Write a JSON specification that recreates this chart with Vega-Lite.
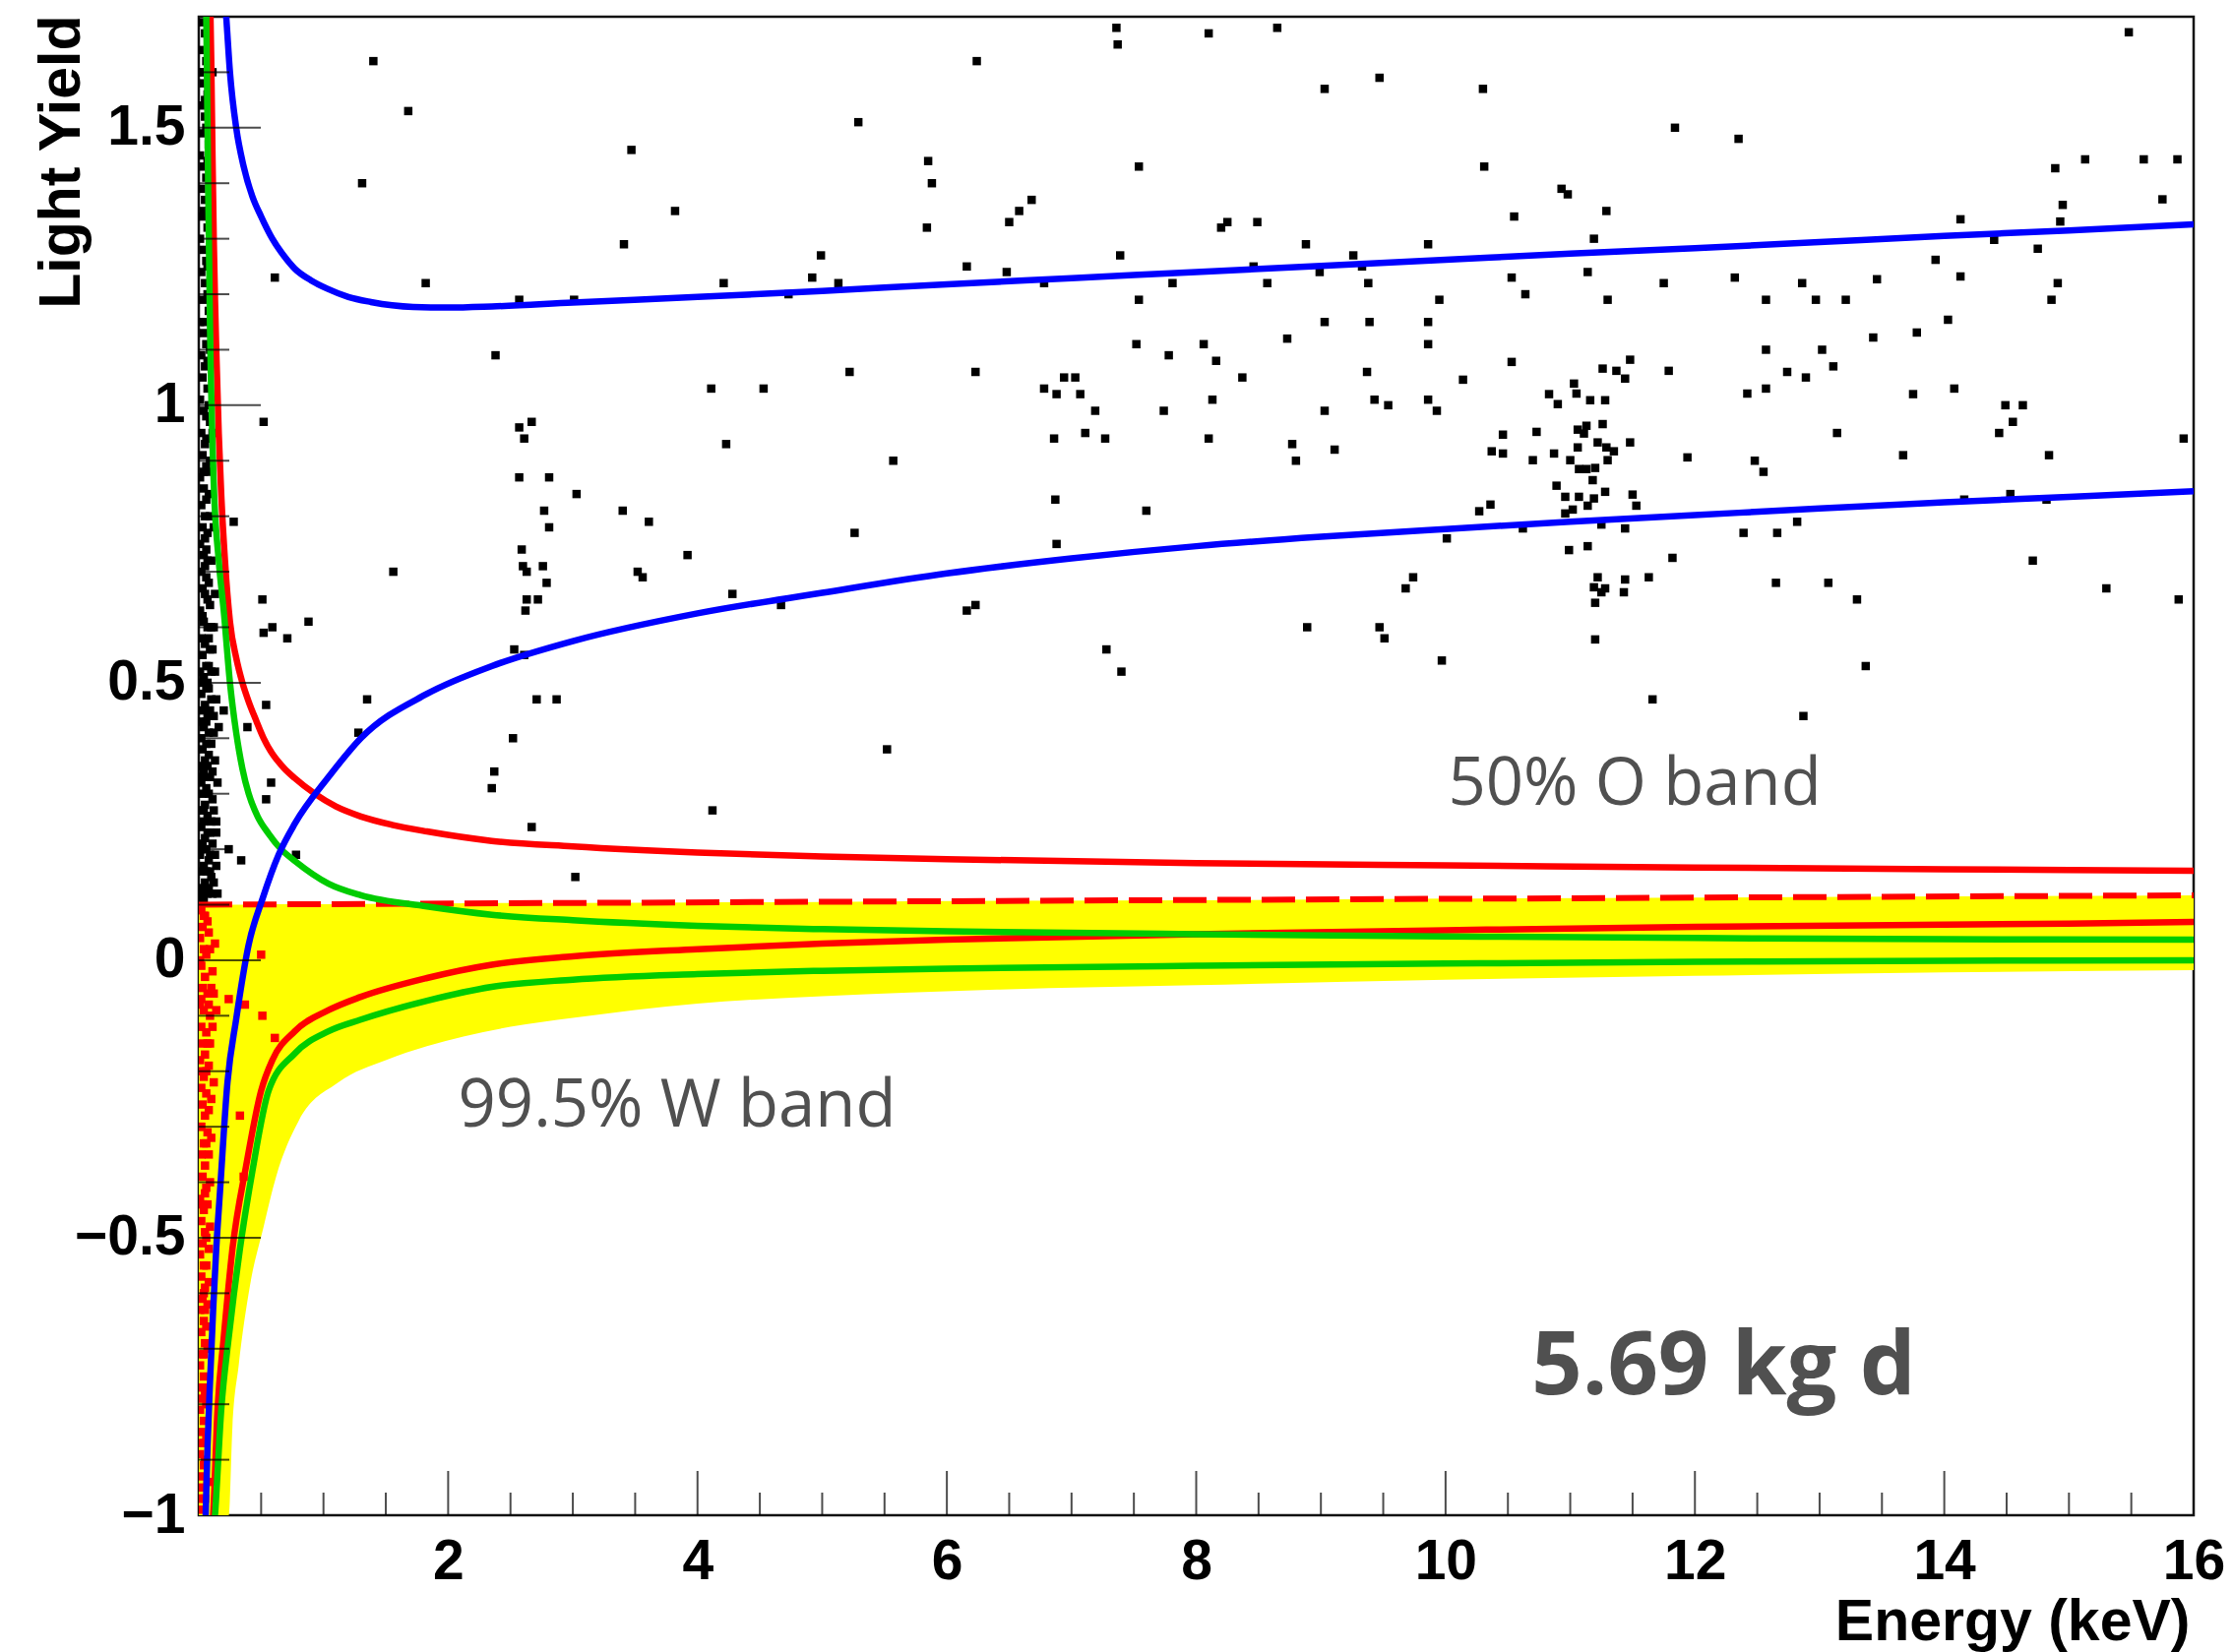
{
  "$schema": "https://vega.github.io/schema/vega-lite/v6.json",
  "width": 2027,
  "height": 1523,
  "autosize": {"type": "none"},
  "padding": {"left": 202, "top": 17, "right": 40, "bottom": 139},
  "background": "white",
  "config": {
    "view": {"stroke": "#111111", "strokeWidth": 2.5},
    "axis": {"grid": false, "domain": false, "ticks": false, "labelOverlap": false, "labelFlush": false, "labelBound": false,
      "labelFont": "Liberation Sans", "labelFontWeight": "bold", "labelFontSize": 57, "labelColor": "#000000",
      "titleFont": "Liberation Sans", "titleFontWeight": "bold", "titleFontSize": 59, "titleColor": "#000000"}
  },
  "datasets": {
    "band": [
      {"E": 0, "top": 0.100, "bottom": -1.0},
      {"E": 0.24, "top": 0.100, "bottom": -1.0},
      {"E": 0.27, "top": 0.100, "bottom": -0.84},
      {"E": 0.32, "top": 0.100, "bottom": -0.73},
      {"E": 0.41, "top": 0.100, "bottom": -0.587},
      {"E": 0.52, "top": 0.101, "bottom": -0.48},
      {"E": 0.62, "top": 0.101, "bottom": -0.39},
      {"E": 0.80, "top": 0.101, "bottom": -0.29},
      {"E": 1.12, "top": 0.101, "bottom": -0.22},
      {"E": 1.5, "top": 0.102, "bottom": -0.18},
      {"E": 1.83, "top": 0.102, "bottom": -0.155},
      {"E": 2.5, "top": 0.103, "bottom": -0.12},
      {"E": 3, "top": 0.103, "bottom": -0.104},
      {"E": 4, "top": 0.104, "bottom": -0.078},
      {"E": 5, "top": 0.105, "bottom": -0.065},
      {"E": 6.4, "top": 0.107, "bottom": -0.053},
      {"E": 8, "top": 0.108, "bottom": -0.045},
      {"E": 10, "top": 0.111, "bottom": -0.035},
      {"E": 12, "top": 0.113, "bottom": -0.028},
      {"E": 14, "top": 0.115, "bottom": -0.022},
      {"E": 16, "top": 0.117, "bottom": -0.018}
    ],
    "dash": [{"E": 0, "LY": 0.10}, {"E": 16, "LY": 0.117}],
    "curves": [
      {"s": "redUp", "E": 0.09, "LY": 1.75}, {"s": "redUp", "E": 0.10, "LY": 1.62}, {"s": "redUp", "E": 0.11, "LY": 1.45}, {"s": "redUp", "E": 0.12, "LY": 1.3}, {"s": "redUp", "E": 0.13, "LY": 1.19}, {"s": "redUp", "E": 0.14, "LY": 1.1}, {"s": "redUp", "E": 0.16, "LY": 0.95}, {"s": "redUp", "E": 0.18, "LY": 0.84}, {"s": "redUp", "E": 0.21, "LY": 0.72}, {"s": "redUp", "E": 0.25, "LY": 0.61}, {"s": "redUp", "E": 0.30, "LY": 0.545}, {"s": "redUp", "E": 0.35, "LY": 0.50}, {"s": "redUp", "E": 0.40, "LY": 0.466}, {"s": "redUp", "E": 0.46, "LY": 0.432}, {"s": "redUp", "E": 0.52, "LY": 0.40}, {"s": "redUp", "E": 0.59, "LY": 0.372}, {"s": "redUp", "E": 0.68, "LY": 0.347}, {"s": "redUp", "E": 0.77, "LY": 0.328}, {"s": "redUp", "E": 0.93, "LY": 0.30}, {"s": "redUp", "E": 1.1, "LY": 0.277}, {"s": "redUp", "E": 1.30, "LY": 0.259}, {"s": "redUp", "E": 1.55, "LY": 0.244}, {"s": "redUp", "E": 1.83, "LY": 0.232}, {"s": "redUp", "E": 2.35, "LY": 0.215}, {"s": "redUp", "E": 3, "LY": 0.205}, {"s": "redUp", "E": 4, "LY": 0.194}, {"s": "redUp", "E": 5, "LY": 0.187}, {"s": "redUp", "E": 6, "LY": 0.182}, {"s": "redUp", "E": 8, "LY": 0.175}, {"s": "redUp", "E": 10, "LY": 0.171}, {"s": "redUp", "E": 12, "LY": 0.167}, {"s": "redUp", "E": 14, "LY": 0.164}, {"s": "redUp", "E": 16, "LY": 0.161},
      {"s": "redLo", "E": 0.105, "LY": -1.03}, {"s": "redLo", "E": 0.115, "LY": -1.0}, {"s": "redLo", "E": 0.15, "LY": -0.81}, {"s": "redLo", "E": 0.20, "LY": -0.68}, {"s": "redLo", "E": 0.27, "LY": -0.52}, {"s": "redLo", "E": 0.38, "LY": -0.37}, {"s": "redLo", "E": 0.50, "LY": -0.235}, {"s": "redLo", "E": 0.59, "LY": -0.18}, {"s": "redLo", "E": 0.77, "LY": -0.128}, {"s": "redLo", "E": 1.04, "LY": -0.09}, {"s": "redLo", "E": 1.30, "LY": -0.066}, {"s": "redLo", "E": 1.83, "LY": -0.032}, {"s": "redLo", "E": 2.35, "LY": -0.008}, {"s": "redLo", "E": 3, "LY": 0.007}, {"s": "redLo", "E": 4, "LY": 0.02}, {"s": "redLo", "E": 5, "LY": 0.03}, {"s": "redLo", "E": 6, "LY": 0.037}, {"s": "redLo", "E": 8, "LY": 0.047}, {"s": "redLo", "E": 10, "LY": 0.054}, {"s": "redLo", "E": 12, "LY": 0.06}, {"s": "redLo", "E": 14, "LY": 0.064}, {"s": "redLo", "E": 15, "LY": 0.066}, {"s": "redLo", "E": 16, "LY": 0.069},
      {"s": "greenUp", "E": 0.055, "LY": 1.75}, {"s": "greenUp", "E": 0.06, "LY": 1.70}, {"s": "greenUp", "E": 0.075, "LY": 1.4}, {"s": "greenUp", "E": 0.09, "LY": 1.14}, {"s": "greenUp", "E": 0.12, "LY": 0.86}, {"s": "greenUp", "E": 0.16, "LY": 0.72}, {"s": "greenUp", "E": 0.20, "LY": 0.63}, {"s": "greenUp", "E": 0.25, "LY": 0.50}, {"s": "greenUp", "E": 0.30, "LY": 0.41}, {"s": "greenUp", "E": 0.35, "LY": 0.345}, {"s": "greenUp", "E": 0.40, "LY": 0.30}, {"s": "greenUp", "E": 0.47, "LY": 0.26}, {"s": "greenUp", "E": 0.56, "LY": 0.228}, {"s": "greenUp", "E": 0.66, "LY": 0.20}, {"s": "greenUp", "E": 0.77, "LY": 0.179}, {"s": "greenUp", "E": 1.04, "LY": 0.138}, {"s": "greenUp", "E": 1.30, "LY": 0.117}, {"s": "greenUp", "E": 1.83, "LY": 0.097}, {"s": "greenUp", "E": 2.35, "LY": 0.082}, {"s": "greenUp", "E": 3, "LY": 0.072}, {"s": "greenUp", "E": 4, "LY": 0.062}, {"s": "greenUp", "E": 5, "LY": 0.056}, {"s": "greenUp", "E": 6, "LY": 0.052}, {"s": "greenUp", "E": 8, "LY": 0.047}, {"s": "greenUp", "E": 10, "LY": 0.043}, {"s": "greenUp", "E": 12, "LY": 0.040}, {"s": "greenUp", "E": 14, "LY": 0.038}, {"s": "greenUp", "E": 16, "LY": 0.037},
      {"s": "greenLo", "E": 0.12, "LY": -1.03}, {"s": "greenLo", "E": 0.13, "LY": -1.0}, {"s": "greenLo", "E": 0.18, "LY": -0.81}, {"s": "greenLo", "E": 0.24, "LY": -0.68}, {"s": "greenLo", "E": 0.33, "LY": -0.52}, {"s": "greenLo", "E": 0.43, "LY": -0.38}, {"s": "greenLo", "E": 0.56, "LY": -0.235}, {"s": "greenLo", "E": 0.77, "LY": -0.168}, {"s": "greenLo", "E": 1.04, "LY": -0.128}, {"s": "greenLo", "E": 1.30, "LY": -0.107}, {"s": "greenLo", "E": 1.83, "LY": -0.073}, {"s": "greenLo", "E": 2.35, "LY": -0.048}, {"s": "greenLo", "E": 3, "LY": -0.035}, {"s": "greenLo", "E": 4, "LY": -0.025}, {"s": "greenLo", "E": 5, "LY": -0.019}, {"s": "greenLo", "E": 6, "LY": -0.015}, {"s": "greenLo", "E": 8, "LY": -0.01}, {"s": "greenLo", "E": 10, "LY": -0.006}, {"s": "greenLo", "E": 12, "LY": -0.003}, {"s": "greenLo", "E": 14, "LY": -0.001}, {"s": "greenLo", "E": 16, "LY": 0.0},
      {"s": "blueUp", "E": 0.20, "LY": 1.76}, {"s": "blueUp", "E": 0.22, "LY": 1.70}, {"s": "blueUp", "E": 0.25, "LY": 1.60}, {"s": "blueUp", "E": 0.30, "LY": 1.50}, {"s": "blueUp", "E": 0.36, "LY": 1.43}, {"s": "blueUp", "E": 0.43, "LY": 1.376}, {"s": "blueUp", "E": 0.50, "LY": 1.34}, {"s": "blueUp", "E": 0.59, "LY": 1.30}, {"s": "blueUp", "E": 0.68, "LY": 1.27}, {"s": "blueUp", "E": 0.77, "LY": 1.246}, {"s": "blueUp", "E": 0.9, "LY": 1.225}, {"s": "blueUp", "E": 1.03, "LY": 1.21}, {"s": "blueUp", "E": 1.2, "LY": 1.195}, {"s": "blueUp", "E": 1.38, "LY": 1.186}, {"s": "blueUp", "E": 1.55, "LY": 1.18}, {"s": "blueUp", "E": 1.72, "LY": 1.177}, {"s": "blueUp", "E": 2.0, "LY": 1.176}, {"s": "blueUp", "E": 2.35, "LY": 1.178}, {"s": "blueUp", "E": 3, "LY": 1.185}, {"s": "blueUp", "E": 4, "LY": 1.195}, {"s": "blueUp", "E": 5, "LY": 1.206}, {"s": "blueUp", "E": 6, "LY": 1.218}, {"s": "blueUp", "E": 7, "LY": 1.229}, {"s": "blueUp", "E": 8, "LY": 1.24}, {"s": "blueUp", "E": 9, "LY": 1.251}, {"s": "blueUp", "E": 10, "LY": 1.262}, {"s": "blueUp", "E": 11, "LY": 1.273}, {"s": "blueUp", "E": 12, "LY": 1.283}, {"s": "blueUp", "E": 13, "LY": 1.294}, {"s": "blueUp", "E": 14, "LY": 1.305}, {"s": "blueUp", "E": 15, "LY": 1.315}, {"s": "blueUp", "E": 16, "LY": 1.326},
      {"s": "blueLo", "E": 0.05, "LY": -1.04}, {"s": "blueLo", "E": 0.055, "LY": -1.0}, {"s": "blueLo", "E": 0.07, "LY": -0.876}, {"s": "blueLo", "E": 0.09, "LY": -0.76}, {"s": "blueLo", "E": 0.115, "LY": -0.63}, {"s": "blueLo", "E": 0.14, "LY": -0.52}, {"s": "blueLo", "E": 0.17, "LY": -0.417}, {"s": "blueLo", "E": 0.23, "LY": -0.22}, {"s": "blueLo", "E": 0.30, "LY": -0.106}, {"s": "blueLo", "E": 0.40, "LY": 0.028}, {"s": "blueLo", "E": 0.51, "LY": 0.11}, {"s": "blueLo", "E": 0.64, "LY": 0.19}, {"s": "blueLo", "E": 0.77, "LY": 0.246}, {"s": "blueLo", "E": 1.04, "LY": 0.33}, {"s": "blueLo", "E": 1.30, "LY": 0.40}, {"s": "blueLo", "E": 1.83, "LY": 0.48}, {"s": "blueLo", "E": 2.35, "LY": 0.53}, {"s": "blueLo", "E": 3, "LY": 0.575}, {"s": "blueLo", "E": 4, "LY": 0.625}, {"s": "blueLo", "E": 5, "LY": 0.662}, {"s": "blueLo", "E": 6, "LY": 0.697}, {"s": "blueLo", "E": 7, "LY": 0.724}, {"s": "blueLo", "E": 8, "LY": 0.746}, {"s": "blueLo", "E": 9, "LY": 0.763}, {"s": "blueLo", "E": 10, "LY": 0.777}, {"s": "blueLo", "E": 11, "LY": 0.79}, {"s": "blueLo", "E": 12, "LY": 0.802}, {"s": "blueLo", "E": 13, "LY": 0.814}, {"s": "blueLo", "E": 14, "LY": 0.825}, {"s": "blueLo", "E": 15, "LY": 0.835}, {"s": "blueLo", "E": 16, "LY": 0.845}
    ],
    "red": [
      {"E":0.02,"LY":0.09},{"E":0.05,"LY":0.08},{"E":0.03,"LY":0.06},{"E":0.08,"LY":0.05},{"E":0.01,"LY":0.04},{"E":0.04,"LY":0.02},{"E":0.06,"LY":0.01},{"E":0.02,"LY":-0.01},{"E":0.11,"LY":-0.02},{"E":0.05,"LY":-0.03},{"E":0.03,"LY":-0.05},{"E":0.07,"LY":-0.06},{"E":0.01,"LY":-0.08},{"E":0.04,"LY":-0.09},{"E":0.09,"LY":-0.10},{"E":0.02,"LY":-0.12},{"E":0.06,"LY":-0.13},{"E":0.03,"LY":-0.15},{"E":0.05,"LY":-0.17},{"E":0.01,"LY":-0.18},{"E":0.08,"LY":-0.19},{"E":0.04,"LY":-0.21},{"E":0.02,"LY":-0.23},{"E":0.06,"LY":-0.24},{"E":0.03,"LY":-0.26},{"E":0.05,"LY":-0.28},{"E":0.01,"LY":-0.30},{"E":0.07,"LY":-0.31},{"E":0.04,"LY":-0.33},{"E":0.02,"LY":-0.35},{"E":0.05,"LY":-0.37},{"E":0.03,"LY":-0.39},{"E":0.06,"LY":-0.41},{"E":0.01,"LY":-0.43},{"E":0.04,"LY":-0.45},{"E":0.02,"LY":-0.47},{"E":0.05,"LY":-0.49},{"E":0.03,"LY":-0.51},{"E":0.01,"LY":-0.53},{"E":0.04,"LY":-0.55},{"E":0.02,"LY":-0.57},{"E":0.05,"LY":-0.59},{"E":0.03,"LY":-0.61},{"E":0.01,"LY":-0.63},{"E":0.04,"LY":-0.65},{"E":0.02,"LY":-0.67},{"E":0.05,"LY":-0.69},{"E":0.03,"LY":-0.71},{"E":0.01,"LY":-0.73},{"E":0.04,"LY":-0.75},{"E":0.02,"LY":-0.77},{"E":0.03,"LY":-0.79},{"E":0.01,"LY":-0.81},{"E":0.04,"LY":-0.83},{"E":0.02,"LY":-0.85},{"E":0.03,"LY":-0.87},{"E":0.01,"LY":-0.89},{"E":0.04,"LY":-0.91},{"E":0.02,"LY":-0.93},{"E":0.03,"LY":-0.95},{"E":0.01,"LY":-0.97},{"E":0.02,"LY":-0.99},
      {"E":0.13,"LY":0.03},{"E":0.10,"LY":-0.05},{"E":0.07,"LY":0.07},{"E":0.09,"LY":-0.15},{"E":0.12,"LY":-0.22},{"E":0.07,"LY":-0.44},{"E":0.08,"LY":-0.27},{"E":0.06,"LY":-0.55},{"E":0.07,"LY":-0.62},{"E":0.06,"LY":-0.80},{"E":0.05,"LY":-0.90},
      {"E":0.08,"LY":-0.35},{"E":0.09,"LY":-0.48},{"E":0.07,"LY":-0.70},{"E":0.08,"LY":-0.58},{"E":0.06,"LY":-0.66},{"E":0.07,"LY":-0.77},{"E":0.06,"LY":-0.86},{"E":0.07,"LY":-0.94},{"E":0.05,"LY":-0.97},{"E":0.06,"LY":-0.33},{"E":0.09,"LY":-0.40},{"E":0.10,"LY":-0.25},{"E":0.11,"LY":-0.12},{"E":0.12,"LY":-0.06},{"E":0.08,"LY":-0.08},{"E":0.09,"LY":0.02},{"E":0.06,"LY":-0.20},{"E":0.07,"LY":-0.15},{"E":0.05,"LY":-0.42},{"E":0.06,"LY":-0.50},{"E":0.05,"LY":-0.63},{"E":0.04,"LY":-0.71},{"E":0.05,"LY":-0.78},{"E":0.04,"LY":-0.87},{"E":0.03,"LY":-0.97},{"E":0.04,"LY":-0.60},{"E":0.03,"LY":-0.44},{"E":0.02,"LY":-0.30},{"E":0.03,"LY":-0.20},{"E":0.02,"LY":-0.07},{"E":0.01,"LY":0.0},{"E":0.04,"LY":0.08},{"E":0.14,"LY":-0.09},{"E":0.10,"LY":-0.32},{"E":0.08,"LY":-0.52},
      {"E":0.50,"LY":0.01},{"E":0.24,"LY":-0.07},{"E":0.37,"LY":-0.08},{"E":0.51,"LY":-0.10},{"E":0.61,"LY":-0.14},{"E":0.33,"LY":-0.28},{"E":0.36,"LY":-0.39}
    ],
    "black": [
      {"E":0.02,"LY":1.69},{"E":0.05,"LY":1.67},{"E":0.03,"LY":1.64},{"E":0.06,"LY":1.62},{"E":0.01,"LY":1.60},{"E":0.04,"LY":1.58},{"E":0.07,"LY":1.56},{"E":0.02,"LY":1.54},{"E":0.05,"LY":1.52},{"E":0.03,"LY":1.49},{"E":0.08,"LY":1.47},{"E":0.01,"LY":1.45},{"E":0.04,"LY":1.43},{"E":0.06,"LY":1.41},{"E":0.02,"LY":1.39},{"E":0.05,"LY":1.37},{"E":0.03,"LY":1.34},{"E":0.07,"LY":1.32},{"E":0.01,"LY":1.30},{"E":0.04,"LY":1.28},{"E":0.06,"LY":1.26},{"E":0.02,"LY":1.24},{"E":0.05,"LY":1.22},{"E":0.03,"LY":1.19},{"E":0.08,"LY":1.17},{"E":0.01,"LY":1.15},{"E":0.04,"LY":1.13},{"E":0.06,"LY":1.11},{"E":0.02,"LY":1.09},{"E":0.05,"LY":1.07},{"E":0.03,"LY":1.05},{"E":0.07,"LY":1.03},{"E":0.01,"LY":1.01},{"E":0.04,"LY":0.99},{"E":0.09,"LY":0.97},{"E":0.02,"LY":0.95},{"E":0.05,"LY":0.93},{"E":0.03,"LY":0.91},{"E":0.06,"LY":0.89},{"E":0.01,"LY":0.87},{"E":0.04,"LY":0.85},{"E":0.08,"LY":0.84},{"E":0.02,"LY":0.82},{"E":0.05,"LY":0.80},{"E":0.03,"LY":0.78},{"E":0.07,"LY":0.77},{"E":0.01,"LY":0.75},{"E":0.04,"LY":0.73},{"E":0.10,"LY":0.72},{"E":0.02,"LY":0.70},{"E":0.06,"LY":0.69},{"E":0.03,"LY":0.67},{"E":0.05,"LY":0.66},{"E":0.09,"LY":0.64},{"E":0.01,"LY":0.63},{"E":0.04,"LY":0.61},{"E":0.07,"LY":0.60},{"E":0.02,"LY":0.58},{"E":0.05,"LY":0.57},{"E":0.11,"LY":0.56},{"E":0.03,"LY":0.55},{"E":0.08,"LY":0.53},{"E":0.01,"LY":0.52},{"E":0.04,"LY":0.51},{"E":0.06,"LY":0.49},{"E":0.02,"LY":0.48},{"E":0.10,"LY":0.47},{"E":0.05,"LY":0.46},{"E":0.03,"LY":0.45},{"E":0.07,"LY":0.44},{"E":0.01,"LY":0.43},{"E":0.04,"LY":0.42},{"E":0.12,"LY":0.41},{"E":0.02,"LY":0.40},{"E":0.06,"LY":0.39},{"E":0.03,"LY":0.38},{"E":0.08,"LY":0.37},{"E":0.05,"LY":0.36},{"E":0.01,"LY":0.35},{"E":0.04,"LY":0.34},{"E":0.09,"LY":0.33},{"E":0.02,"LY":0.32},{"E":0.06,"LY":0.31},{"E":0.03,"LY":0.30},{"E":0.11,"LY":0.29},{"E":0.05,"LY":0.28},{"E":0.01,"LY":0.27},{"E":0.07,"LY":0.26},{"E":0.04,"LY":0.25},{"E":0.02,"LY":0.24},{"E":0.09,"LY":0.23},{"E":0.05,"LY":0.22},{"E":0.03,"LY":0.21},{"E":0.06,"LY":0.20},{"E":0.01,"LY":0.19},{"E":0.08,"LY":0.18},{"E":0.04,"LY":0.17},{"E":0.02,"LY":0.16},{"E":0.10,"LY":0.15},{"E":0.05,"LY":0.14},{"E":0.03,"LY":0.13},{"E":0.07,"LY":0.12},{"E":0.01,"LY":0.115},{"E":0.04,"LY":0.11},
      {"E":0.06,"LY":1.50},{"E":0.08,"LY":1.35},{"E":0.07,"LY":1.20},{"E":0.08,"LY":1.00},{"E":0.06,"LY":0.94},{"E":0.07,"LY":0.88},{"E":0.09,"LY":0.80},{"E":0.06,"LY":0.74},{"E":0.08,"LY":0.68},{"E":0.03,"LY":0.62},{"E":0.09,"LY":0.56},{"E":0.06,"LY":0.53},{"E":0.03,"LY":0.50},{"E":0.08,"LY":0.49},{"E":0.06,"LY":0.43},{"E":0.10,"LY":0.39},{"E":0.07,"LY":0.35},{"E":0.03,"LY":0.33},{"E":0.08,"LY":0.30},{"E":0.04,"LY":0.27},{"E":0.07,"LY":0.23},{"E":0.02,"LY":0.20},{"E":0.09,"LY":0.19},{"E":0.06,"LY":0.16},{"E":0.02,"LY":0.12},{"E":0.08,"LY":0.13},
      {"E":0.11,"LY":1.60},{"E":0.10,"LY":1.25},{"E":0.11,"LY":0.95},{"E":0.12,"LY":0.78},{"E":0.13,"LY":0.66},{"E":0.12,"LY":0.60},{"E":0.13,"LY":0.52},{"E":0.14,"LY":0.47},{"E":0.12,"LY":0.44},{"E":0.13,"LY":0.36},{"E":0.15,"LY":0.32},{"E":0.12,"LY":0.27},{"E":0.14,"LY":0.25},{"E":0.11,"LY":0.21},{"E":0.13,"LY":0.19},{"E":0.12,"LY":0.14},{"E":0.15,"LY":0.12},{"E":0.09,"LY":1.10},{"E":0.09,"LY":0.90},{"E":0.10,"LY":0.60},{"E":0.10,"LY":0.52},{"E":0.11,"LY":0.34},{"E":0.10,"LY":0.25},{"E":0.09,"LY":0.16},{"E":0.11,"LY":0.12},{"E":0.08,"LY":0.41},{"E":0.09,"LY":0.45},{"E":0.07,"LY":0.50},{"E":0.08,"LY":0.58},{"E":0.07,"LY":0.65},{"E":0.05,"LY":0.71},{"E":0.07,"LY":0.72},{"E":0.05,"LY":0.76},{"E":0.06,"LY":0.83},{"E":0.04,"LY":0.88},{"E":0.06,"LY":0.98},{"E":0.07,"LY":1.08},{"E":0.05,"LY":1.15},{"E":0.07,"LY":1.25},{"E":0.04,"LY":1.35},{"E":0.07,"LY":1.44},{"E":0.05,"LY":1.55},{"E":0.03,"LY":1.60},
      {"E":0.28,"LY":0.79},{"E":0.51,"LY":0.65},{"E":0.59,"LY":0.60},{"E":0.52,"LY":0.59},{"E":0.71,"LY":0.58},{"E":0.88,"LY":0.61},{"E":0.54,"LY":0.46},{"E":0.20,"LY":0.45},{"E":0.16,"LY":0.42},{"E":0.39,"LY":0.42},{"E":0.58,"LY":0.32},{"E":0.54,"LY":0.29},{"E":0.24,"LY":0.20},{"E":0.14,"LY":0.23},{"E":0.34,"LY":0.18},{"E":0.14,"LY":0.17},{"E":0.78,"LY":0.19},
      {"E":6.24,"LY":1.62},{"E":7.37,"LY":1.65},{"E":7.36,"LY":1.68},{"E":8.10,"LY":1.67},{"E":8.65,"LY":1.68},{"E":1.40,"LY":1.62},{"E":1.68,"LY":1.53},{"E":5.29,"LY":1.51},{"E":9.03,"LY":1.57},{"E":9.47,"LY":1.59},{"E":10.30,"LY":1.57},{"E":11.84,"LY":1.50},{"E":12.35,"LY":1.48},{"E":3.47,"LY":1.46},{"E":5.85,"LY":1.44},{"E":5.88,"LY":1.40},{"E":7.54,"LY":1.43},{"E":10.31,"LY":1.43},{"E":10.93,"LY":1.39},{"E":10.98,"LY":1.38},{"E":10.55,"LY":1.34},{"E":11.29,"LY":1.35},{"E":1.31,"LY":1.40},{"E":3.82,"LY":1.35},{"E":5.84,"LY":1.32},{"E":6.68,"LY":1.37},{"E":6.58,"LY":1.35},{"E":6.50,"LY":1.33},{"E":8.25,"LY":1.33},{"E":8.20,"LY":1.32},{"E":8.49,"LY":1.33},{"E":3.41,"LY":1.29},{"E":4.21,"LY":1.22},{"E":4.99,"LY":1.27},{"E":4.92,"LY":1.23},{"E":7.39,"LY":1.27},{"E":8.88,"LY":1.29},{"E":9.26,"LY":1.27},{"E":9.86,"LY":1.29},{"E":11.19,"LY":1.30},{"E":10.53,"LY":1.23},{"E":11.14,"LY":1.24},{"E":12.32,"LY":1.23},{"E":12.86,"LY":1.22},{"E":0.61,"LY":1.23},{"E":1.82,"LY":1.22},{"E":2.57,"LY":1.19},{"E":3.01,"LY":1.19},{"E":4.73,"LY":1.20},{"E":5.13,"LY":1.22},{"E":6.16,"LY":1.25},{"E":6.48,"LY":1.24},{"E":6.78,"LY":1.22},{"E":7.54,"LY":1.19},{"E":7.81,"LY":1.22},{"E":8.57,"LY":1.22},{"E":8.46,"LY":1.25},{"E":8.99,"LY":1.24},{"E":9.33,"LY":1.25},{"E":9.38,"LY":1.22},{"E":9.95,"LY":1.19},{"E":10.64,"LY":1.20},{"E":11.30,"LY":1.19},{"E":11.75,"LY":1.22},{"E":12.57,"LY":1.19},{"E":12.97,"LY":1.19},{"E":13.21,"LY":1.19},
      {"E":2.38,"LY":1.09},{"E":5.22,"LY":1.06},{"E":6.23,"LY":1.06},{"E":4.11,"LY":1.03},{"E":4.53,"LY":1.03},{"E":7.52,"LY":1.11},{"E":7.78,"LY":1.09},{"E":8.06,"LY":1.11},{"E":8.16,"LY":1.08},{"E":8.37,"LY":1.05},{"E":8.73,"LY":1.12},{"E":9.03,"LY":1.15},{"E":9.39,"LY":1.15},{"E":9.86,"LY":1.11},{"E":9.86,"LY":1.15},{"E":9.37,"LY":1.06},{"E":9.43,"LY":1.01},{"E":9.54,"LY":1.00},{"E":9.86,"LY":1.01},{"E":12.57,"LY":1.10},{"E":12.89,"LY":1.05},{"E":13.02,"LY":1.10},{"E":13.11,"LY":1.07},{"E":6.78,"LY":1.03},{"E":6.88,"LY":1.02},{"E":6.94,"LY":1.05},{"E":7.03,"LY":1.05},{"E":7.07,"LY":1.02},{"E":7.19,"LY":0.99},{"E":7.74,"LY":0.99},{"E":8.13,"LY":1.01},{"E":0.52,"LY":0.97},{"E":2.57,"LY":0.96},{"E":2.67,"LY":0.97},{"E":2.61,"LY":0.94},{"E":4.23,"LY":0.93},{"E":9.03,"LY":0.99},{"E":9.93,"LY":0.99},{"E":12.57,"LY":1.03},{"E":12.74,"LY":1.06},
      {"E":13.67,"LY":0.91},{"E":14.44,"LY":0.95},{"E":14.55,"LY":0.97},{"E":14.84,"LY":0.91},{"E":15.92,"LY":0.94},{"E":14.16,"LY":0.83},{"E":14.53,"LY":0.84},{"E":14.82,"LY":0.83},{"E":14.71,"LY":0.72},{"E":15.88,"LY":0.65},{"E":15.30,"LY":0.67},{"E":13.75,"LY":1.02},{"E":14.08,"LY":1.03},{"E":14.49,"LY":1.00},{"E":14.63,"LY":1.00},
      {"E":2.57,"LY":0.87},{"E":2.81,"LY":0.87},{"E":5.57,"LY":0.90},{"E":6.86,"LY":0.94},{"E":7.11,"LY":0.95},{"E":7.27,"LY":0.94},{"E":8.10,"LY":0.94},{"E":8.77,"LY":0.93},{"E":8.80,"LY":0.90},{"E":9.11,"LY":0.92},{"E":13.14,"LY":0.95},{"E":12.55,"LY":0.88},{"E":12.48,"LY":0.90},{"E":3.03,"LY":0.84},{"E":2.77,"LY":0.81},{"E":3.40,"LY":0.81},{"E":3.61,"LY":0.79},{"E":6.87,"LY":0.83},{"E":7.60,"LY":0.81},{"E":12.66,"LY":0.77},{"E":12.82,"LY":0.79},{"E":2.59,"LY":0.74},{"E":2.81,"LY":0.78},{"E":5.26,"LY":0.77},{"E":6.88,"LY":0.75},{"E":10.01,"LY":0.76},
      {"E":2.60,"LY":0.71},{"E":2.63,"LY":0.70},{"E":2.76,"LY":0.71},{"E":2.79,"LY":0.68},{"E":3.52,"LY":0.70},{"E":3.56,"LY":0.69},{"E":3.92,"LY":0.73},{"E":1.56,"LY":0.70},{"E":4.28,"LY":0.66},{"E":2.63,"LY":0.65},{"E":2.72,"LY":0.65},{"E":2.62,"LY":0.63},{"E":4.67,"LY":0.64},{"E":6.16,"LY":0.63},{"E":6.23,"LY":0.64},{"E":9.74,"LY":0.69},{"E":9.68,"LY":0.67},{"E":12.65,"LY":0.68},{"E":13.07,"LY":0.68},{"E":13.30,"LY":0.65},{"E":2.53,"LY":0.56},{"E":2.61,"LY":0.55},{"E":2.71,"LY":0.47},{"E":2.87,"LY":0.47},{"E":2.52,"LY":0.40},{"E":9.47,"LY":0.60},{"E":9.51,"LY":0.58},{"E":9.97,"LY":0.54},{"E":8.89,"LY":0.60},{"E":7.28,"LY":0.56},{"E":7.40,"LY":0.52},{"E":11.66,"LY":0.47},{"E":13.37,"LY":0.53},{"E":2.37,"LY":0.34},{"E":2.35,"LY":0.31},{"E":1.35,"LY":0.47},{"E":1.28,"LY":0.41},{"E":5.52,"LY":0.38},{"E":12.87,"LY":0.44},{"E":2.67,"LY":0.24},{"E":3.02,"LY":0.15},{"E":4.12,"LY":0.27},
      {"E":14.89,"LY":1.427},{"E":15.13,"LY":1.443},{"E":15.60,"LY":1.443},{"E":15.87,"LY":1.443},{"E":15.75,"LY":1.371},{"E":14.95,"LY":1.361},{"E":14.93,"LY":1.331},{"E":14.13,"LY":1.335},{"E":14.40,"LY":1.298},{"E":14.75,"LY":1.282},{"E":13.93,"LY":1.262},{"E":14.13,"LY":1.232},{"E":13.46,"LY":1.227},{"E":14.91,"LY":1.220},{"E":14.86,"LY":1.190},{"E":14.03,"LY":1.154},{"E":13.78,"LY":1.131},{"E":13.43,"LY":1.122},{"E":15.48,"LY":1.672},
      {"E":10.53,"LY":1.078},{"E":10.14,"LY":1.046},{"E":11.48,"LY":1.082},{"E":11.26,"LY":1.066},{"E":11.37,"LY":1.062},{"E":11.44,"LY":1.048},{"E":11.79,"LY":1.062},{"E":11.03,"LY":1.039},{"E":10.83,"LY":1.020},{"E":11.05,"LY":1.021},{"E":10.90,"LY":1.002},{"E":11.16,"LY":1.009},{"E":11.28,"LY":1.009},{"E":12.42,"LY":1.021},{"E":10.46,"LY":0.947},{"E":10.73,"LY":0.952},{"E":11.06,"LY":0.956},{"E":11.13,"LY":0.963},{"E":11.11,"LY":0.949},{"E":11.26,"LY":0.966},{"E":11.48,"LY":0.933},{"E":11.22,"LY":0.933},{"E":10.37,"LY":0.917},{"E":10.46,"LY":0.913},{"E":10.87,"LY":0.913},{"E":11.06,"LY":0.924},{"E":11.29,"LY":0.924},{"E":11.35,"LY":0.917},{"E":10.70,"LY":0.901},{"E":11.00,"LY":0.901},{"E":11.30,"LY":0.901},{"E":11.94,"LY":0.906},{"E":11.07,"LY":0.885},{"E":11.13,"LY":0.885},{"E":11.20,"LY":0.887},{"E":11.18,"LY":0.865},{"E":10.89,"LY":0.855},{"E":11.28,"LY":0.844},{"E":10.96,"LY":0.835},{"E":11.07,"LY":0.835},{"E":11.19,"LY":0.832},{"E":11.50,"LY":0.839},{"E":11.14,"LY":0.819},{"E":11.53,"LY":0.819},{"E":10.36,"LY":0.821},{"E":10.27,"LY":0.809},{"E":11.02,"LY":0.812},{"E":10.96,"LY":0.805},{"E":10.62,"LY":0.778},{"E":11.25,"LY":0.785},{"E":11.44,"LY":0.778},{"E":12.39,"LY":0.770},{"E":10.99,"LY":0.739},{"E":11.14,"LY":0.746},{"E":11.82,"LY":0.725},{"E":11.22,"LY":0.690},{"E":11.44,"LY":0.686},{"E":11.63,"LY":0.690},{"E":11.19,"LY":0.672},{"E":11.28,"LY":0.670},{"E":11.25,"LY":0.663},{"E":11.43,"LY":0.663},{"E":11.20,"LY":0.644},{"E":11.20,"LY":0.578}
    ],
    "xminor": [{"v":0.5},{"v":1},{"v":1.5},{"v":2.5},{"v":3},{"v":3.5},{"v":4.5},{"v":5},{"v":5.5},{"v":6.5},{"v":7},{"v":7.5},{"v":8.5},{"v":9},{"v":9.5},{"v":10.5},{"v":11},{"v":11.5},{"v":12.5},{"v":13},{"v":13.5},{"v":14.5},{"v":15},{"v":15.5}],
    "xmajor": [{"v":2},{"v":4},{"v":6},{"v":8},{"v":10},{"v":12},{"v":14}],
    "yminor": [{"v":-0.9},{"v":-0.8},{"v":-0.7},{"v":-0.6},{"v":-0.4},{"v":-0.3},{"v":-0.2},{"v":-0.1},{"v":0.1},{"v":0.2},{"v":0.3},{"v":0.4},{"v":0.6},{"v":0.7},{"v":0.8},{"v":0.9},{"v":1.1},{"v":1.2},{"v":1.3},{"v":1.4},{"v":1.6}],
    "ymajor": [{"v":-0.5},{"v":0},{"v":0.5},{"v":1},{"v":1.5}]
  },
  "layer": [
    {
      "data": {"name": "band"},
      "mark": {"type": "area", "color": "#ffff00", "interpolate": "monotone", "clip": true, "opacity": 1},
      "encoding": {
        "x": {"field": "E", "type": "quantitative", "scale": {"domain": [0, 16], "nice": false, "zero": false},
          "axis": {"values": [2, 4, 6, 8, 10, 12, 14, 16], "format": "~g", "labelPadding": 19, "labelBaseline": "top",
            "title": "Energy (keV)", "titleX": 2023, "titleY": 126, "titleAlign": "right", "titleBaseline": "alphabetic", "titleAnchor": "end"}},
        "y": {"field": "top", "type": "quantitative", "scale": {"domain": [-1, 1.7], "nice": false, "zero": false},
          "axis": {"values": [-1, -0.5, 0, 0.5, 1, 1.5], "format": "~g", "labelPadding": 14,
            "title": "Light Yield", "titleAngle": 270, "titleX": -169, "titleY": -2, "titleAlign": "right", "titleBaseline": "top", "titleAnchor": "end"}},
        "y2": {"field": "bottom"}
      }
    },
    {
      "data": {"name": "black"},
      "mark": {"type": "point", "shape": "square", "filled": true, "size": 72, "color": "#000000", "opacity": 1, "clip": true},
      "encoding": {"x": {"field": "E", "type": "quantitative"}, "y": {"field": "LY", "type": "quantitative"}}
    },
    {
      "data": {"name": "red"},
      "mark": {"type": "point", "shape": "square", "filled": true, "size": 72, "color": "#ff0000", "opacity": 1, "clip": true},
      "encoding": {"x": {"field": "E", "type": "quantitative"}, "y": {"field": "LY", "type": "quantitative"}}
    },
    {
      "data": {"name": "dash"},
      "mark": {"type": "line", "color": "#ff0000", "strokeWidth": 6, "strokeDash": [34, 11], "clip": true},
      "encoding": {"x": {"field": "E", "type": "quantitative"}, "y": {"field": "LY", "type": "quantitative"}}
    },
    {
      "data": {"name": "curves"},
      "mark": {"type": "line", "strokeWidth": 6.5, "interpolate": "monotone", "clip": true},
      "encoding": {
        "x": {"field": "E", "type": "quantitative"},
        "y": {"field": "LY", "type": "quantitative"},
        "color": {"field": "s", "type": "nominal", "legend": null,
          "scale": {"domain": ["redUp", "redLo", "greenUp", "greenLo", "blueUp", "blueLo"],
                    "range": ["#ff0000", "#ff0000", "#00cc00", "#00cc00", "#0000ff", "#0000ff"]}}
      }
    },
    {
      "data": {"name": "xminor"},
      "mark": {"type": "tick", "orient": "vertical", "size": 23, "thickness": 2, "yOffset": -11.5, "color": "#000000"},
      "encoding": {"x": {"field": "v", "type": "quantitative"}, "y": {"datum": -1, "type": "quantitative"}}
    },
    {
      "data": {"name": "xmajor"},
      "mark": {"type": "tick", "orient": "vertical", "size": 45, "thickness": 2, "yOffset": -22.5, "color": "#000000"},
      "encoding": {"x": {"field": "v", "type": "quantitative"}, "y": {"datum": -1, "type": "quantitative"}}
    },
    {
      "data": {"name": "yminor"},
      "mark": {"type": "tick", "orient": "horizontal", "size": 31, "thickness": 2, "xOffset": 15.5, "color": "#000000"},
      "encoding": {"y": {"field": "v", "type": "quantitative"}, "x": {"datum": 0, "type": "quantitative"}}
    },
    {
      "data": {"name": "ymajor"},
      "mark": {"type": "tick", "orient": "horizontal", "size": 63, "thickness": 2, "xOffset": 31.5, "color": "#000000"},
      "encoding": {"y": {"field": "v", "type": "quantitative"}, "x": {"datum": 0, "type": "quantitative"}}
    },
    {
      "data": {"values": [{"t": "50% O band"}]},
      "mark": {"type": "text", "font": "Open Sans", "fontSize": 67, "color": "#505050", "align": "left", "baseline": "alphabetic"},
      "encoding": {"text": {"field": "t"}, "x": {"datum": 10.02, "type": "quantitative"}, "y": {"datum": 0.28, "type": "quantitative"}}
    },
    {
      "data": {"values": [{"t": "99.5% W band"}]},
      "mark": {"type": "text", "font": "Open Sans", "fontSize": 67, "color": "#505050", "align": "left", "baseline": "alphabetic"},
      "encoding": {"text": {"field": "t"}, "x": {"datum": 2.08, "type": "quantitative"}, "y": {"datum": -0.30, "type": "quantitative"}}
    },
    {
      "data": {"values": [{"t": "5.69 kg d"}]},
      "mark": {"type": "text", "font": "Open Sans", "fontSize": 90, "fontWeight": "bold", "color": "#505050", "align": "left", "baseline": "alphabetic"},
      "encoding": {"text": {"field": "t"}, "x": {"datum": 10.69, "type": "quantitative"}, "y": {"datum": -0.782, "type": "quantitative"}}
    }
  ]
}
